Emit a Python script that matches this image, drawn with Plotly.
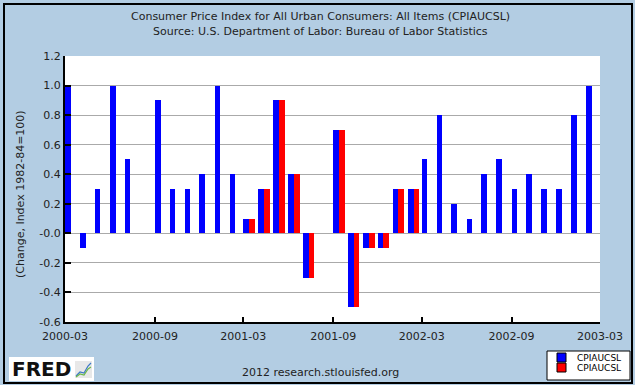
import plotly.graph_objects as go

# ---------------- data ----------------
MONTHS = [
    "2000-03", "2000-04", "2000-05", "2000-06", "2000-07", "2000-08",
    "2000-09", "2000-10", "2000-11", "2000-12", "2001-01", "2001-02",
    "2001-03", "2001-04", "2001-05", "2001-06", "2001-07", "2001-08",
    "2001-09", "2001-10", "2001-11", "2001-12", "2002-01", "2002-02",
    "2002-03", "2002-04", "2002-05", "2002-06", "2002-07", "2002-08",
    "2002-09", "2002-10", "2002-11", "2002-12", "2003-01", "2003-02",
]
BLUE_VALUES = [
    1.0, -0.1, 0.3, 1.0, 0.5, 0.0,
    0.9, 0.3, 0.3, 0.4, 1.0, 0.4,
    0.1, 0.3, 0.9, 0.4, -0.3, 0.0,
    0.7, -0.5, -0.1, -0.1, 0.3, 0.3,
    0.5, 0.8, 0.2, 0.1, 0.4, 0.5,
    0.3, 0.4, 0.3, 0.3, 0.8, 1.0,
]
RED_MONTHS = [
    "2001-03", "2001-04", "2001-05", "2001-06", "2001-07", "2001-08",
    "2001-09", "2001-10", "2001-11", "2001-12", "2002-01", "2002-02",
]
RED_VALUES = [0.1, 0.3, 0.9, 0.4, -0.3, 0.0, 0.7, -0.5, -0.1, -0.1, 0.3, 0.3]

SERIES_NAMES = ["CPIAUCSL", "CPIAUCSL"]
Y_TICK_VALUES = [-0.6, -0.4, -0.2, 0.0, 0.2, 0.4, 0.6, 0.8, 1.0, 1.2]
Y_TICK_LABELS = ["-0.6", "-0.4", "-0.2", "-0.0", "0.2", "0.4", "0.6", "0.8", "1.0", "1.2"]
X_TICK_LABELS = ["2000-03", "2000-09", "2001-03", "2001-09", "2002-03", "2002-09", "2003-03"]

TITLE_1 = "Consumer Price Index for All Urban Consumers: All Items (CPIAUCSL)"
TITLE_2 = "Source: U.S. Department of Labor: Bureau of Labor Statistics"
Y_TITLE = "(Change, Index 1982-84=100)"
FOOTER = "2012 research.stlouisfed.org"

# ---------------- layout geometry ----------------
W, H = 635, 385
L, R, T, B = 65, 600, 56, 322
BG = "#B3CDE3"
FONT = "DejaVu Sans"
DAY = 86400000


def px(x):
    return (x - L) / (R - L)


def py(y):
    return (B - y) / (B - T)


def d(m):
    return m + "-01"


fig = go.Figure()
fig.add_trace(go.Bar(
    x=[d(m) for m in MONTHS], y=BLUE_VALUES, name=SERIES_NAMES[0],
    marker=dict(color="#0000FF", line=dict(width=0)),
    offset=0, width=11.5 * DAY, showlegend=False,
))
fig.add_trace(go.Bar(
    x=[d(m) for m in RED_MONTHS], y=RED_VALUES, name=SERIES_NAMES[1],
    marker=dict(color="#FF0000", line=dict(width=0)),
    offset=11.5 * DAY, width=12 * DAY, showlegend=False,
))

shapes = [
    # outer frame
    dict(type="rect", xref="paper", yref="paper",
         x0=px(4), x1=px(632), y0=py(383), y1=py(4),
         line=dict(color="black", width=2), layer="above"),
    # legend box
    dict(type="rect", xref="paper", yref="paper",
         x0=px(547), x1=px(630), y0=py(380), y1=py(351),
         line=dict(color="black", width=1), fillcolor="white", layer="above"),
    dict(type="rect", xref="paper", yref="paper",
         x0=px(557), x1=px(566), y0=py(362), y1=py(353),
         line=dict(color="black", width=1), fillcolor="#0000FF", layer="above"),
    dict(type="rect", xref="paper", yref="paper",
         x0=px(557), x1=px(566), y0=py(372), y1=py(363),
         line=dict(color="black", width=1), fillcolor="#FF0000", layer="above"),
    # FRED logo box
    dict(type="rect", xref="paper", yref="paper",
         x0=px(9), x1=px(94), y0=py(381), y1=py(357),
         line=dict(width=0), fillcolor="white", layer="above"),
    dict(type="rect", xref="paper", yref="paper",
         x0=px(75), x1=px(92), y0=py(378), y1=py(361),
         line=dict(width=0), fillcolor="#E8E8E8", layer="above"),
    dict(type="path", xref="paper", yref="paper",
         path="M %f %f L %f %f L %f %f L %f %f L %f %f" % (
             px(76), py(376), px(80), py(372), px(84), py(373), px(88), py(366), px(91), py(363)),
         line=dict(color="#3C78C8", width=1.2), layer="above"),
    dict(type="path", xref="paper", yref="paper",
         path="M %f %f L %f %f L %f %f L %f %f L %f %f" % (
             px(76), py(377), px(80), py(374), px(84), py(375), px(88), py(369), px(91), py(367)),
         line=dict(color="#6CB84A", width=1.2), layer="above"),
]

annotations = [
    dict(text=TITLE_1, x=px(320), y=py(16), xref="paper", yref="paper",
         showarrow=False, font=dict(family=FONT, size=11, color="#222222"),
         xanchor="center", yanchor="middle"),
    dict(text=TITLE_2, x=px(320), y=py(31), xref="paper", yref="paper",
         showarrow=False, font=dict(family=FONT, size=11, color="#222222"),
         xanchor="center", yanchor="middle"),
    dict(text=Y_TITLE, x=px(20), y=py(194), xref="paper", yref="paper",
         showarrow=False, textangle=-90, font=dict(family=FONT, size=11, color="#222222"),
         xanchor="center", yanchor="middle"),
    dict(text=FOOTER, x=px(320), y=py(372), xref="paper", yref="paper",
         showarrow=False, font=dict(family=FONT, size=11, color="#222222"),
         xanchor="center", yanchor="middle"),
    dict(text="<b>FRED</b>", x=px(10), y=py(369), xref="paper", yref="paper",
         showarrow=False, font=dict(family=FONT, size=20, color="#111111"),
         xanchor="left", yanchor="middle"),
    dict(text=SERIES_NAMES[0], x=px(575), y=py(358), xref="paper", yref="paper",
         showarrow=False, font=dict(family=FONT, size=9, color="black"),
         xanchor="left", yanchor="middle"),
    dict(text=SERIES_NAMES[1], x=px(575), y=py(368), xref="paper", yref="paper",
         showarrow=False, font=dict(family=FONT, size=9, color="black"),
         xanchor="left", yanchor="middle"),
]

fig.update_layout(
    width=W, height=H,
    margin=dict(l=L, r=W - R, t=T, b=H - B, pad=0),
    paper_bgcolor=BG, plot_bgcolor="white",
    barmode="overlay", bargap=0,
    font=dict(family=FONT, size=11, color="#222222"),
    shapes=shapes, annotations=annotations,
    xaxis=dict(
        type="date", range=[d(X_TICK_LABELS[0]), d(X_TICK_LABELS[-1])],
        tickvals=[d(t) for t in X_TICK_LABELS], ticktext=X_TICK_LABELS,
        showgrid=False, zeroline=False,
        showline=True, linecolor="black", linewidth=2,
        ticks="inside", ticklen=5, tickwidth=1.5, tickcolor="black",
        ticklabelstandoff=3,
        tickfont=dict(family=FONT, size=11, color="#222222"),
        fixedrange=True,
    ),
    yaxis=dict(
        range=[-0.6, 1.2], tickvals=Y_TICK_VALUES, ticktext=Y_TICK_LABELS,
        showgrid=True, gridcolor="#AAAAAA", gridwidth=1, zeroline=False,
        showline=True, linecolor="black", linewidth=2,
        ticks="inside", ticklen=6, tickwidth=1.5, tickcolor="black",
        tickfont=dict(family=FONT, size=11, color="#222222"),
        fixedrange=True,
    ),
)

fig.write_html(
    "out.html",
    config={"displayModeBar": False},
    post_script="document.body.style.margin='0';document.body.style.overflow='hidden';",
)
